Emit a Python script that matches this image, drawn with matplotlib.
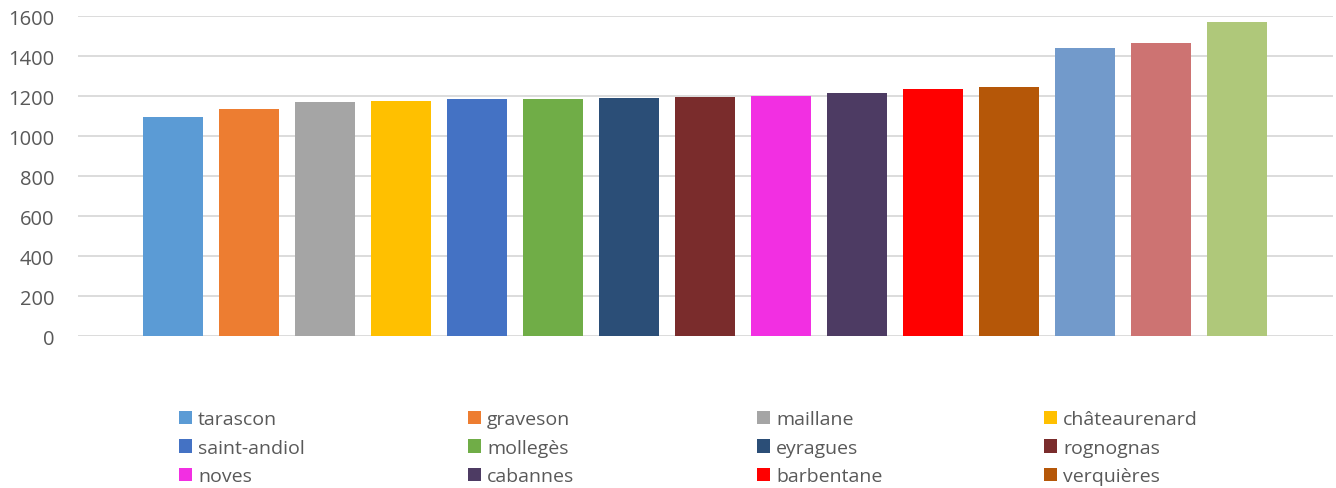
import matplotlib
matplotlib.use("Agg")
import matplotlib.pyplot as plt
from matplotlib.patches import Patch

plt.rcParams['font.family'] = ['Open Sans', 'DejaVu Sans']

# communes (la légende d'origine n'affiche que les 12 premières)
communes = ['tarascon', 'graveson', 'maillane', 'châteaurenard',
            'saint-andiol', 'mollegès', 'eyragues', 'rognognas',
            'noves', 'cabannes', 'barbentane', 'verquières']
valeurs = [1098, 1138, 1173, 1178, 1188, 1188, 1193, 1198,
           1203, 1218, 1238, 1248, 1444, 1469, 1570]
couleurs = ['#5B9BD5', '#ED7D31', '#A5A5A5', '#FFC000',
            '#4472C4', '#70AD47', '#2B4E77', '#7A2C2C',
            '#F22FE2', '#4D3B63', '#FF0000', '#B55708',
            '#729ACB', '#CD7372', '#AFC87A']
yticks = [0, 200, 400, 600, 800, 1000, 1200, 1400, 1600]

W, H = 1336, 489
fig = plt.figure(figsize=(W / 100, H / 100), dpi=100)
ax = fig.add_axes([78 / W, (H - 337.3) / H, (1333 - 78) / W, (337.3 - 17.3) / H])

x = range(len(valeurs))
ax.bar(x, valeurs, width=0.79, color=couleurs, zorder=2)

ax.set_xlim(-1.25, 15.26)
ax.set_ylim(0, 1600)
ax.set_yticks(yticks)
ax.set_xticks([])
ax.grid(axis='y', color='#D9D9D9', linewidth=1.3, zorder=0)
for s in ax.spines.values():
    s.set_visible(False)
ax.tick_params(axis='y', length=0, pad=17, labelsize=14.5, labelcolor='#595959')

# légende en 4 colonnes
handles = [Patch(facecolor=couleurs[i], label=communes[i]) for i in range(len(communes))]
col_x = [179, 468, 757, 1044]
for j in range(4):
    fig.legend(handles=handles[j::4], loc='upper left',
               bbox_to_anchor=(col_x[j] / W, (H - 411) / H),
               frameon=False, fontsize=14, labelcolor='#595959',
               handlelength=0.68, handleheight=0.68, handletextpad=0.3,
               labelspacing=0.55, borderpad=0, borderaxespad=0)

fig.savefig('out.png', dpi=100)
